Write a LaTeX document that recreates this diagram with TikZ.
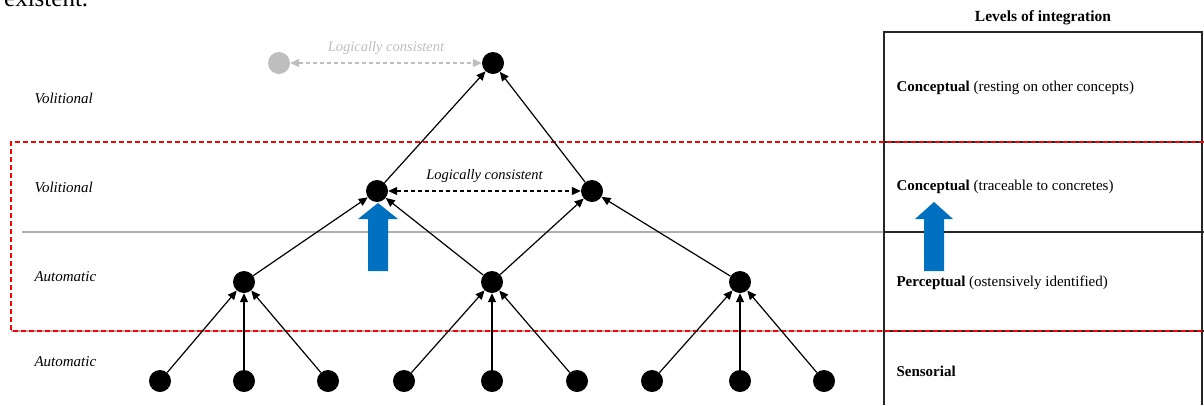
\documentclass[tikz,border=0pt]{standalone}
\usepackage{fontspec}
\setmainfont{Liberation Serif}
\usetikzlibrary{arrows.meta}
\definecolor{officeblue}{RGB}{0,112,192}
\definecolor{softgray}{RGB}{190,190,190}
\definecolor{rulegray}{RGB}{175,175,175}
\tikzset{
  dot/.style={circle,fill=black,minimum size=22pt,inner sep=0pt},
  ghostdot/.style={circle,fill=softgray,minimum size=22pt,inner sep=0pt},
  edge/.style={line width=1.2pt,-{Triangle[length=9pt,width=8pt]}},
  consistent/.style={line width=1.2pt,dash pattern=on 4pt off 3pt,{Triangle[length=9pt,width=8pt]}-{Triangle[length=9pt,width=8pt]}},
  modelabel/.style={anchor=west,font=\fontsize{15pt}{17pt}\selectfont\itshape},
  levellabel/.style={anchor=west,font=\fontsize{15pt}{17pt}\selectfont},
  relabel/.style={above=4pt,font=\fontsize{14.5pt}{16pt}\selectfont\itshape},
  tableline/.style={line width=1.3pt,black!85},
  redframe/.style={line width=1.6pt,red,dash pattern=on 5pt off 3pt},
  bigarrow/.style={fill=officeblue}
}
\begin{document}
\begin{tikzpicture}[x=1pt,y=-1pt]
\useasboundingbox (0,0) rectangle (1204,405);

% running text from the page above
\node[anchor=base west,inner sep=0pt,font=\fontsize{25pt}{27pt}\selectfont] (pagetext) at (4,6.5) {existent.};

% layer separators
\draw[rulegray,line width=1.5pt] (22,232) -- (884,232);
\draw[rulegray,line width=1.5pt] (11,331) -- (884,331);

% table of integration levels
\node[font=\fontsize{15.5pt}{17pt}\selectfont\bfseries] (tabletitle) at (1043,18) {Levels of integration};
\draw[tableline] (884,405) -- (884,32) -- (1202,32) -- (1202,405);
\draw[tableline] (884,142) -- (1204,142);
\draw[tableline] (884,232) -- (1204,232);
\draw[tableline] (884,331) -- (1204,331);

% highlighted band
\draw[redframe] (1204,142) -- (11,142) -- (11,331) -- (1204,331);

% mode labels
\node[modelabel] (mode1) at (31,98) {Volitional};
\node[modelabel] (mode2) at (31,187) {Volitional};
\node[modelabel] (mode3) at (31,277) {Automatic};
\node[modelabel] (mode4) at (31,362) {Automatic};

% level labels
\node[levellabel] (lvl1) at (893,88) {\textbf{Conceptual} (resting on other concepts)};
\node[levellabel] (lvl2) at (893,187) {\textbf{Conceptual} (traceable to concretes)};
\node[levellabel] (lvl3) at (893,283) {\textbf{Perceptual} (ostensively identified)};
\node[levellabel] (lvl4) at (893,371) {\textbf{Sensorial}};

% upward block arrows
\fill[bigarrow] (368,271) -- (368,219) -- (358,219) -- (378,203) -- (398,219) -- (388,219) -- (388,271) -- cycle;
\fill[bigarrow] (924,271) -- (924,219) -- (915,219) -- (934,202) -- (953,219) -- (944,219) -- (944,271) -- cycle;

% concept nodes
\node[dot] (s1) at (160,381) {};
\node[dot] (s2) at (244,381) {};
\node[dot] (s3) at (328,381) {};
\node[dot] (s4) at (404,381) {};
\node[dot] (s5) at (492,381) {};
\node[dot] (s6) at (577,381) {};
\node[dot] (s7) at (652,381) {};
\node[dot] (s8) at (740,381) {};
\node[dot] (s9) at (824,381) {};

\node[dot] (p1) at (244,282) {};
\node[dot] (p2) at (492,282) {};
\node[dot] (p3) at (740,282) {};

\node[dot] (c1) at (377,191) {};
\node[dot] (c2) at (592,191) {};

\node[dot] (top) at (493,63) {};
\node[ghostdot] (ghost) at (279,63) {};

% integration edges
\foreach \s/\p in {s1/p1,s2/p1,s3/p1,s4/p2,s5/p2,s6/p2,s7/p3,s8/p3,s9/p3,p1/c1,p2/c1,p2/c2,p3/c2,c1/top,c2/top}
  \draw[edge] (\s) -- (\p);

% consistency relations
\draw[consistent] (c1) -- node[relabel] (lc1) {Logically consistent} (c2);
\draw[consistent,softgray] (ghost) -- node[relabel,text=softgray] (lc2) {Logically consistent} (top);
\end{tikzpicture}
\end{document}
